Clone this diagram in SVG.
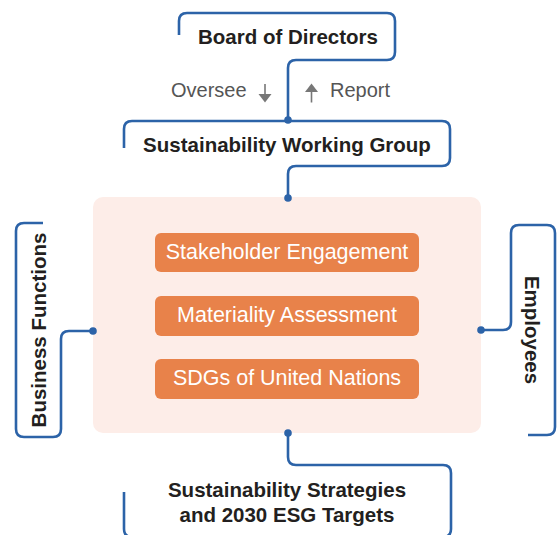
<svg xmlns="http://www.w3.org/2000/svg" width="557" height="535" viewBox="0 0 557 535">
<defs>
<style>
.conn{fill:none;stroke:#2c63a8;stroke-width:2.6;stroke-linecap:butt;stroke-linejoin:round}
.dot{fill:#2c63a8}
.title{font-family:"Liberation Sans",Arial,sans-serif;font-weight:bold;font-size:20.5px;fill:#231f20;text-anchor:middle}
.label{font-family:"Liberation Sans",Arial,sans-serif;font-size:20px;fill:#555555}
.box{fill:#e8824a}
.boxtext{font-family:"Liberation Sans",Arial,sans-serif;font-size:21.5px;fill:#ffffff;text-anchor:middle}
.arrow{stroke:#777777;stroke-width:1.6;fill:none}
.head{fill:#777777}
</style>
</defs>
<rect width="557" height="535" fill="#ffffff"/>
<g id="core">
<rect x="93" y="197" width="388" height="236" rx="10" fill="#fdede8"/>
</g>
<g id="connectors">
<path class="conn" d="M179,35 V21 Q179,13 187,13 H387 Q395,13 395,21 V52 Q395,60 387,60 H296 Q288,60 288,68 V120"/>
<path class="conn" d="M124,148 V129 Q124,121 132,121 H442 Q450,121 450,129 V158 Q450,166 442,166 H296 Q288,166 288,174 V198"/>
<path class="conn" d="M43,223 H24 Q16,223 16,231 V429 Q16,437 24,437 H53 Q61,437 61,429 V339 Q61,331 69,331 H93"/>
<path class="conn" d="M481,330 H503 Q511,330 511,322 V233 Q511,225 519,225 H547 Q555,225 555,233 V427 Q555,435 547,435 H528"/>
<path class="conn" d="M288,433 V457 Q288,465 296,465 H443 Q451,465 451,473 V529 Q451,537 443,537"/>
<path class="conn" d="M124,492 V529 Q124,537 132,537"/>
<circle class="dot" cx="288" cy="120" r="3.8"/>
<circle class="dot" cx="288" cy="198" r="3.8"/>
<circle class="dot" cx="93" cy="331" r="3.8"/>
<circle class="dot" cx="481" cy="330" r="3.8"/>
<circle class="dot" cx="288" cy="433" r="3.8"/>
</g>
<g id="board">
<text class="title" x="288" y="43.5">Board of Directors</text>
</g>
<g id="oversee">
<text class="label" x="171" y="97">Oversee</text>
<line class="arrow" x1="265" y1="84" x2="265" y2="95"/>
<polygon class="head" points="258.5,94 271.5,94 265,102.5"/>
</g>
<g id="report">
<line class="arrow" x1="311.5" y1="91" x2="311.5" y2="102.5"/>
<polygon class="head" points="305,92 318,92 311.5,83.5"/>
<text class="label" x="330" y="97">Report</text>
</g>
<g id="working-group">
<text class="title" x="287" y="152">Sustainability Working Group</text>
</g>
<g id="stakeholder">
<rect class="box" x="155" y="233" width="264" height="39" rx="6"/>
<text class="boxtext" x="287" y="259">Stakeholder Engagement</text>
</g>
<g id="materiality">
<rect class="box" x="155" y="296" width="264" height="40" rx="6"/>
<text class="boxtext" x="287" y="322">Materiality Assessment</text>
</g>
<g id="sdgs">
<rect class="box" x="155" y="359" width="264" height="40" rx="6"/>
<text class="boxtext" x="287" y="385">SDGs of United Nations</text>
</g>
<g id="business-functions">
<text class="title" transform="translate(46,330) rotate(-90)" x="0" y="0">Business Functions</text>
</g>
<g id="employees">
<text class="title" transform="translate(525,330) rotate(90)" x="0" y="0">Employees</text>
</g>
<g id="strategies">
<text class="title" x="287" y="497">Sustainability Strategies</text>
<text class="title" x="287" y="522">and 2030 ESG Targets</text>
</g>
</svg>
